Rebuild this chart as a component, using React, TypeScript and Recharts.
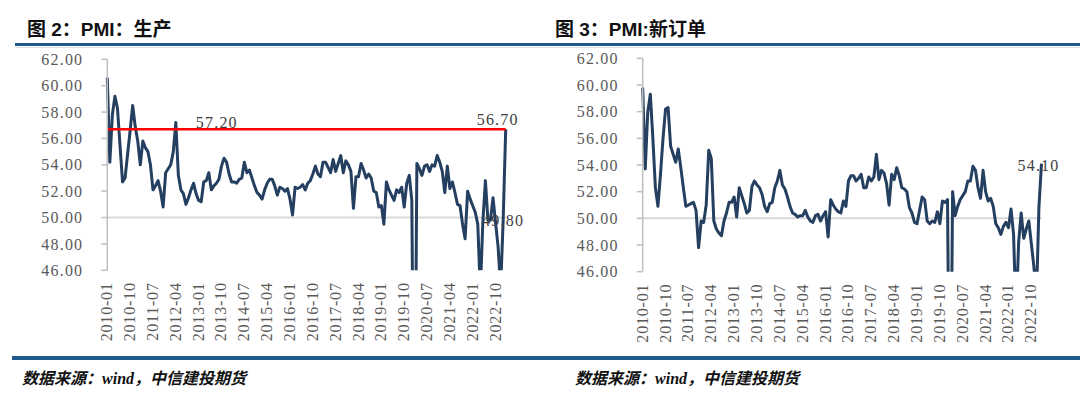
import React from 'react';
import { LineChart, Line, XAxis, YAxis, ReferenceLine, LabelList } from 'recharts';

// monthly readings, 2010-01 .. 2023-02
const production = [
  60.6, 54.2, 57.8, 59.2, 58.3, 55.5, 52.7, 53.0, 54.8, 56.6, 58.5, 56.9, // 2010
  55.8, 54.0, 55.8, 55.3, 55.0, 54.0, 52.1, 52.4, 52.8, 52.0, 50.8, 53.4, // 2011
  53.7, 54.0, 55.0, 57.2, 53.2, 52.1, 51.8, 51.0, 51.5, 52.1, 52.6, 51.8, // 2012
  51.3, 51.2, 52.7, 52.8, 53.4, 52.1, 52.4, 52.6, 52.9, 53.9, 54.5, 54.2, // 2013
  53.3, 52.7, 52.7, 52.6, 52.9, 53.0, 54.2, 53.4, 53.6, 53.0, 52.4, 51.9, // 2014
  51.7, 51.4, 52.1, 52.6, 52.9, 52.9, 52.4, 51.7, 52.3, 52.2, 52.0, 52.2, // 2015
  51.4, 50.2, 52.3, 52.2, 52.3, 52.5, 52.1, 52.6, 52.8, 53.3, 53.9, 53.3, // 2016
  53.1, 54.2, 54.2, 53.8, 53.4, 54.4, 53.5, 54.1, 54.7, 53.4, 54.3, 54.0, // 2017
  53.5, 50.7, 53.1, 53.1, 54.1, 53.6, 53.0, 53.3, 53.0, 52.0, 51.9, 50.8, // 2018
  50.9, 49.5, 52.7, 52.1, 51.7, 51.3, 52.1, 51.9, 52.3, 50.8, 52.6, 53.2, // 2019
  51.3, 27.8, 54.1, 53.7, 53.2, 53.9, 54.0, 53.5, 54.0, 53.9, 54.7, 54.2, // 2020
  53.5, 51.9, 53.9, 52.2, 52.7, 51.9, 51.0, 50.9, 49.5, 48.4, 52.0, 51.4, // 2021
  50.9, 50.4, 49.5, 44.4, 49.7, 52.8, 49.8, 49.8, 51.5, 49.6, 47.8, 44.6, // 2022
  49.8, 56.7, // 2023
];

const newOrders = [
  59.8, 53.7, 58.0, 59.3, 56.0, 52.3, 50.9, 53.3, 56.0, 58.2, 58.3, 55.4, // 2010
  54.8, 54.2, 55.2, 53.8, 52.3, 50.9, 51.0, 51.1, 51.2, 50.6, 47.8, 49.8, // 2011
  49.7, 51.0, 55.1, 54.5, 49.8, 49.2, 48.9, 48.7, 49.8, 50.4, 51.2, 51.2, // 2012
  51.6, 50.1, 52.3, 51.7, 51.1, 50.4, 50.6, 52.4, 52.8, 52.5, 52.3, 51.8, // 2013
  50.9, 50.5, 51.1, 51.2, 52.3, 52.8, 53.6, 52.5, 52.2, 51.6, 50.9, 50.4, // 2014
  50.3, 50.1, 50.2, 50.2, 50.6, 50.1, 49.8, 49.7, 50.2, 50.3, 49.8, 50.2, // 2015
  50.5, 48.6, 51.4, 51.0, 50.7, 50.5, 50.4, 51.3, 50.9, 52.8, 53.2, 53.2, // 2016
  52.8, 53.0, 53.3, 52.3, 52.3, 53.1, 52.8, 53.1, 54.8, 52.9, 53.6, 53.4, // 2017
  52.6, 51.0, 53.3, 52.9, 53.8, 53.2, 52.3, 52.2, 52.0, 50.8, 50.4, 49.7, // 2018
  49.6, 50.6, 51.6, 51.4, 49.8, 49.6, 49.8, 49.7, 50.5, 49.6, 51.3, 51.2, // 2019
  51.4, 29.3, 52.0, 50.2, 50.9, 51.4, 51.7, 52.0, 52.8, 52.8, 53.9, 53.6, // 2020
  52.3, 51.5, 53.6, 52.0, 51.3, 51.5, 50.9, 49.6, 49.3, 48.8, 49.4, 49.7, // 2021
  49.3, 50.7, 48.8, 42.6, 48.2, 50.4, 48.5, 49.2, 49.8, 48.1, 46.4, 43.9, // 2022
  50.9, 54.1, // 2023
];

const months = production.map(
  (_, i) => `${2010 + Math.floor(i / 12)}-${String((i % 12) + 1).padStart(2, '0')}`
);

const xTicks = [
  '2010-01', '2010-10', '2011-07', '2012-04', '2013-01', '2013-10', '2014-07', '2015-04', '2016-01',
  '2016-10', '2017-07', '2018-04', '2019-01', '2019-10', '2020-07', '2021-04', '2022-01', '2022-10',
];
const yTicks = [46, 48, 50, 52, 54, 56, 58, 60, 62];

// which months get a value label
const productionMarks = ['2012-04', '2023-01', '2023-02'];
const ordersMarks = ['2023-02'];

const productionData = months.map((m, i) => ({ date: m, value: production[i] }));
const ordersData = months.map((m, i) => ({ date: m, value: newOrders[i] }));

const NAVY = '#243F60';
const RULE = '#1f5a8c';
const SERIF = 'Liberation Serif, DejaVu Serif, serif';
const CJK = 'Liberation Sans, Noto Sans CJK SC, sans-serif';

type Place = { dx: number; dy: number; anchor: 'start' | 'middle' | 'end' };

const XTick = (props: any) => {
  const { x, y, payload } = props;
  const bx = x + 5;
  return (
    <text
      x={bx}
      y={y}
      transform={`rotate(-90 ${bx} ${y})`}
      textAnchor="end"
      fill="#595959"
      fontSize={16}
      style={{ fontFamily: SERIF, letterSpacing: 0.8 }}
    >
      {payload.value}
    </text>
  );
};

const YTick = (props: any) => {
  const { x, y, payload } = props;
  return (
    <text
      x={x}
      y={y}
      dy="0.35em"
      textAnchor="end"
      fill="#595959"
      fontSize={16}
      style={{ fontFamily: SERIF, letterSpacing: 1.2 }}
    >
      {Number(payload.value).toFixed(2)}
    </text>
  );
};

const valueLabel = (marks: string[], places: Record<string, Place>) => (props: any) => {
  const { x, y, value, index } = props;
  const key = months[index];
  if (!marks.includes(key)) return null;
  const p = places[key];
  return (
    <text
      x={x + p.dx}
      y={y + p.dy}
      textAnchor={p.anchor}
      fill="#404040"
      fontSize={16}
      style={{ fontFamily: SERIF, letterSpacing: 1.2 }}
    >
      {Number(value).toFixed(2)}
    </text>
  );
};

const productionPlaces: Record<string, Place> = {
  '2012-04': { dx: 20, dy: 5.5, anchor: 'start' },
  '2023-01': { dx: 0, dy: 6, anchor: 'middle' },
  '2023-02': { dx: 13, dy: -4.5, anchor: 'end' },
};
const ordersPlaces: Record<string, Place> = {
  '2023-02': { dx: -3, dy: 7, anchor: 'middle' },
};

function PmiChart({ data, margin, marks, places, redLine }: any) {
  return (
    <LineChart width={540} height={350} data={data} margin={margin}>
      <XAxis
        dataKey="date"
        ticks={xTicks}
        interval={0}
        axisLine={false}
        tickLine={false}
        tickSize={0}
        tickMargin={12}
        height={70}
        tick={<XTick />}
      />
      <YAxis
        domain={[46, 62]}
        ticks={yTicks}
        allowDataOverflow
        width={60}
        tickSize={6}
        tickMargin={18}
        axisLine={{ stroke: '#bfbfbf', strokeWidth: 1.5 }}
        tickLine={{ stroke: '#bfbfbf', strokeWidth: 1.5 }}
        tick={<YTick />}
      />
      <ReferenceLine y={50} stroke="#d9d9d9" strokeWidth={2} />
      <Line
        type="linear"
        dataKey="value"
        stroke={NAVY}
        strokeWidth={3}
        strokeLinejoin="round"
        dot={false}
        activeDot={false}
        isAnimationActive={false}
      >
        <LabelList dataKey="value" content={valueLabel(marks, places)} />
      </Line>
      {redLine != null && <ReferenceLine y={redLine} stroke="#ff0000" strokeWidth={2.5} />}
    </LineChart>
  );
}

const titleStyle: React.CSSProperties = {
  position: 'absolute',
  top: 14,
  fontFamily: CJK,
  fontWeight: 'bold',
  fontSize: 19,
  color: '#111',
  whiteSpace: 'nowrap',
};

const sourceStyle: React.CSSProperties = {
  position: 'absolute',
  top: 365,
  fontFamily: 'Noto Sans CJK SC, sans-serif',
  fontWeight: 'bold',
  fontStyle: 'italic',
  fontSize: 16,
  color: '#111',
  whiteSpace: 'nowrap',
};

function Source({ left }: { left: number }) {
  return (
    <div style={{ ...sourceStyle, left }}>
      数据来源：<span style={{ fontFamily: SERIF }}>wind</span>，中信建投期货
    </div>
  );
}

export default function App() {
  return (
    <div style={{ position: 'absolute', left: 0, top: 0, width: 1080, height: 395, background: '#fff', overflow: 'hidden' }}>
      <div style={{ ...titleStyle, left: 27 }}>图 2：PMI：生产</div>
      <div style={{ ...titleStyle, left: 555 }}>图 3：PMI:新订单</div>

      <div style={{ position: 'absolute', left: 15, top: 43, width: 1065, height: 3, background: RULE }} />
      <div style={{ position: 'absolute', left: 15, top: 46.5, width: 1065, height: 1, background: '#d6e0ea' }} />

      <div style={{ position: 'absolute', left: 0, top: 0 }}>
        <PmiChart
          data={productionData}
          margin={{ top: 59.3, right: 34.3, bottom: 9.7, left: 47.3 }}
          marks={productionMarks}
          places={productionPlaces}
          redLine={production[production.length - 1]}
        />
      </div>
      <div style={{ position: 'absolute', left: 540, top: 0 }}>
        <PmiChart
          data={ordersData}
          margin={{ top: 58.3, right: 38.5, bottom: 8.3, left: 42.7 }}
          marks={ordersMarks}
          places={ordersPlaces}
        />
      </div>

      <div style={{ position: 'absolute', left: 12, top: 356, width: 1068, height: 3.5, background: RULE }} />
      <Source left={22} />
      <Source left={575} />
    </div>
  );
}
